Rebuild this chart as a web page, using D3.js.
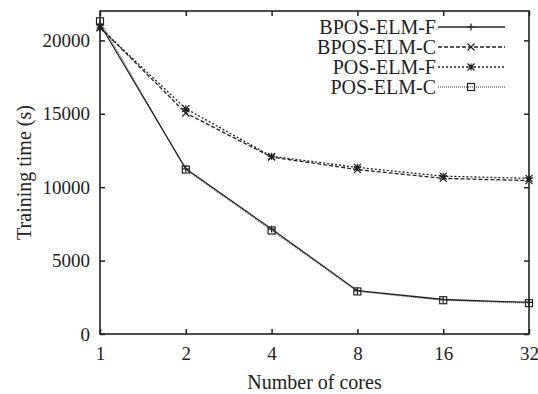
<!DOCTYPE html>
<html>
<head>
<meta charset="utf-8">
<script src="https://cdn.jsdelivr.net/npm/d3@7"></script>
<style>
  body { margin: 0; background: #fff; }
  text { font-family: "Liberation Serif", "DejaVu Serif", serif; fill: #222; }
</style>
</head>
<body>
<script>
// cores on the x axis (log2)
const cores = [1, 2, 4, 8, 16, 32];
const names = ["BPOS-ELM-F", "BPOS-ELM-C", "POS-ELM-F", "POS-ELM-C"];
const bposF = [21100, 11250, 7150, 2950, 2350, 2150];
const bposC = [20900, 15050, 12050, 11200, 10600, 10450];
const posF  = [20850, 15350, 12100, 11350, 10750, 10600];
const posC  = [21300, 11200, 7050, 2900, 2300, 2100];
const yTicks = [0, 5000, 10000, 15000, 20000];

const series = [
    {name: names[0], values: bposF, dash: null,  color: "#222", marker: "plus"},
    {name: names[1], values: bposC, dash: "4,2", color: "#222", marker: "cross"},
    {name: names[2], values: posF,  dash: "2,2", color: "#222", marker: "star"},
    {name: names[3], values: posC,  dash: "1,1", color: "#777", marker: "square"}
];

const W = 538, H = 394;
const margin = {top: 11, right: 9, bottom: 60, left: 100};
const width = W - margin.left - margin.right,
      height = H - margin.top - margin.bottom;

const svg = d3.select("body").append("svg")
    .attr("width", W)
    .attr("height", H);

const x = d3.scaleLog().base(2)
    .domain([1, 32])
    .range([0, width]);
const y = d3.scaleLinear()
    .domain([0, 22000])
    .range([height, 0]);

const g = svg.append("g")
    .attr("transform", "translate(" + margin.left + "," + margin.top + ")");

// axes with inward ticks
const xAxis = g.append("g")
    .attr("transform", "translate(0," + height + ")")
    .call(d3.axisBottom(x).tickValues(cores).tickFormat(d3.format("d")).tickSize(-5).tickPadding(9));
const yAxis = g.append("g")
    .call(d3.axisLeft(y).tickValues(yTicks).tickFormat(d3.format("d")).tickSize(-5).tickPadding(10));
g.append("g")
    .call(d3.axisTop(x).tickValues(cores).tickSize(-5).tickFormat(""));
g.append("g")
    .attr("transform", "translate(" + width + ",0)")
    .call(d3.axisRight(y).tickValues(yTicks).tickSize(-5).tickFormat(""));

g.selectAll(".domain").remove();
g.selectAll(".tick line").attr("stroke", "#222").attr("stroke-width", 1.5);
g.selectAll(".tick text")
    .style("font-family", "'Liberation Serif', serif")
    .style("font-size", "19px")
    .attr("fill", "#222");
xAxis.selectAll(".tick text").attr("dy", "0.9em");

g.append("rect")
    .attr("width", width)
    .attr("height", height)
    .attr("fill", "none")
    .attr("stroke", "#222")
    .attr("stroke-width", 1.6);

const line = d3.line()
    .x((d, i) => x(cores[i]))
    .y(d => y(d));

function drawMarker(sel, type, color) {
    const s = 3.5;
    if (type === "plus") {
        sel.append("path").attr("d", "M" + (-s) + ",0H" + s + "M0," + (-s) + "V" + s);
    } else if (type === "cross") {
        sel.append("path").attr("d", "M" + (-s) + "," + (-s) + "L" + s + "," + s + "M" + (-s) + "," + s + "L" + s + "," + (-s));
    } else if (type === "star") {
        sel.append("path").attr("d", "M" + (-s) + ",0H" + s + "M0," + (-s) + "V" + s +
            "M" + (-s) + "," + (-s) + "L" + s + "," + s + "M" + (-s) + "," + s + "L" + s + "," + (-s));
    } else {
        sel.append("rect").attr("x", -s).attr("y", -s).attr("width", 2 * s).attr("height", 2 * s)
            .attr("fill", "none");
    }
    sel.selectAll("path, rect").attr("stroke", type === "square" ? "#222" : color).attr("stroke-width", 1.2);
}

// draw in reverse so the solid line sits on top
series.slice().reverse().forEach(function(s) {
    g.append("path")
        .datum(s.values)
        .attr("fill", "none")
        .attr("stroke", s.color)
        .attr("stroke-width", 1.3)
        .attr("stroke-dasharray", s.dash)
        .attr("d", line);
    s.values.forEach(function(v, i) {
        const m = g.append("g").attr("transform", "translate(" + x(cores[i]) + "," + y(v) + ")");
        drawMarker(m, s.marker, s.color);
    });
});

// legend
series.forEach(function(s, k) {
    const ly = 16 + k * 20;
    const lg = g.append("g").attr("transform", "translate(0," + ly + ")");
    lg.append("text")
        .attr("x", 336)
        .attr("y", 0)
        .attr("dy", "0.35em")
        .attr("text-anchor", "end")
        .style("font-size", "20px")
        .text(s.name);
    lg.append("line")
        .attr("x1", 338).attr("x2", 405)
        .attr("stroke", s.color)
        .attr("stroke-width", 1.3)
        .attr("stroke-dasharray", s.dash);
    drawMarker(lg.append("g").attr("transform", "translate(371,0)"), s.marker, s.color);
});

// axis titles
svg.append("text")
    .attr("x", margin.left + width / 2)
    .attr("y", 389)
    .attr("text-anchor", "middle")
    .style("font-size", "20px")
    .text("Number of cores");
svg.append("text")
    .attr("transform", "translate(31," + (margin.top + height / 2) + ") rotate(-90)")
    .attr("text-anchor", "middle")
    .style("font-size", "20px")
    .text("Training time (s)");
</script>
</body>
</html>
